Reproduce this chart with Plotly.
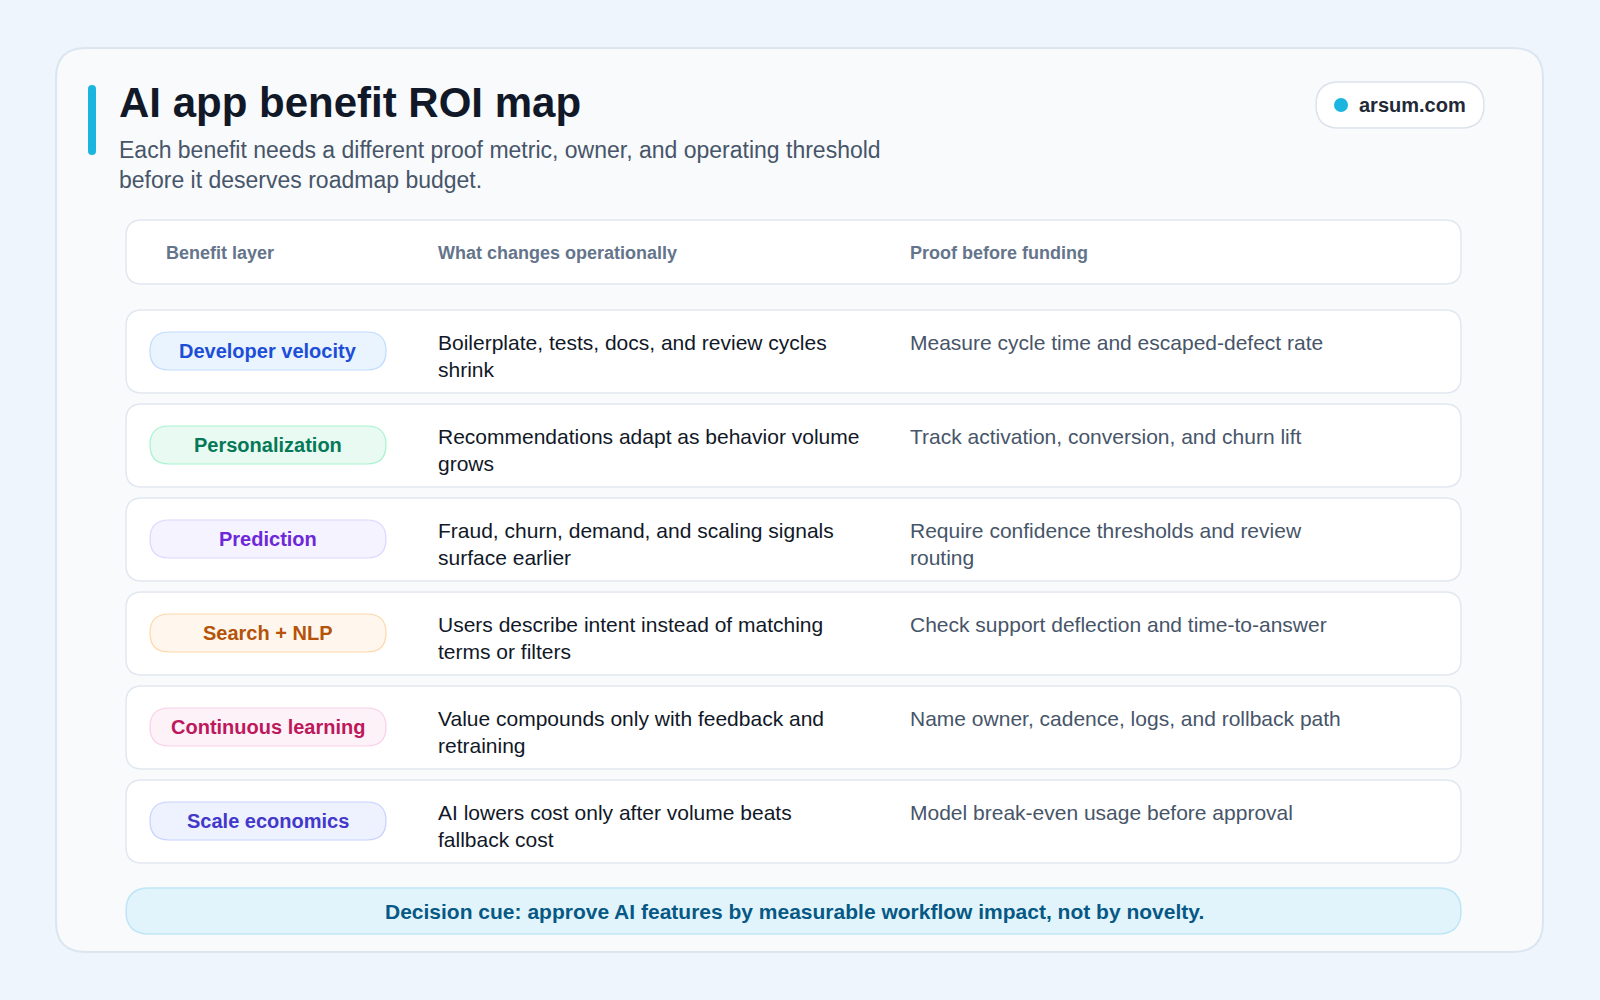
import plotly.graph_objects as go

# data
benefits = ["Developer velocity", "Personalization", "Prediction", "Search + NLP",
            "Continuous learning", "Scale economics"]
changes = ["Boilerplate, tests, docs, and review cycles<br>shrink",
           "Recommendations adapt as behavior volume<br>grows",
           "Fraud, churn, demand, and scaling signals<br>surface earlier",
           "Users describe intent instead of matching<br>terms or filters",
           "Value compounds only with feedback and<br>retraining",
           "AI lowers cost only after volume beats<br>fallback cost"]
proofs = ["Measure cycle time and escaped-defect rate",
          "Track activation, conversion, and churn lift",
          "Require confidence thresholds and review<br>routing",
          "Check support deflection and time-to-answer",
          "Name owner, cadence, logs, and rollback path",
          "Model break-even usage before approval"]
headers = ["Benefit layer", "What changes operationally", "Proof before funding"]

# pill styles: text, fill, border
pill_styles = [("#1d4ed8", "#eaf4ff", "#bfdbfe"),
               ("#047857", "#e8faf1", "#a7f3d0"),
               ("#6d28d9", "#f5f3ff", "#ddd6fe"),
               ("#b45309", "#fff7ed", "#fed7aa"),
               ("#be185d", "#fdf2f8", "#fbcfe8"),
               ("#4338ca", "#eef2ff", "#c7d2fe")]

FONT = "Liberation Sans, Arial, sans-serif"
BG = "#eef5fc"


def rrect(x0, y0, x1, y1, r):
    return (f"M{x0+r},{y0} L{x1-r},{y0} Q{x1},{y0} {x1},{y0+r} L{x1},{y1-r} "
            f"Q{x1},{y1} {x1-r},{y1} L{x0+r},{y1} Q{x0},{y1} {x0},{y1-r} "
            f"L{x0},{y0+r} Q{x0},{y0} {x0+r},{y0} Z")


shapes = []
ann = []


def box(x0, y0, x1, y1, r, fill, line, w=1.5):
    shapes.append(dict(type="path", path=rrect(x0, y0, x1, y1, r), fillcolor=fill,
                       line=dict(color=line, width=w), layer="below"))


def text(x, y, s, size, color, bold=False, xanchor="left"):
    ann.append(dict(x=x, y=y, text=f"<b>{s}</b>" if bold else s, showarrow=False,
                    xanchor=xanchor, yanchor="middle", align="left",
                    font=dict(family=FONT, size=size, color=color)))


# outer card
box(56, 48, 1543, 952, 30, "#f8fafc", "#dbe6f0", 2)
shapes.append(dict(type="path", path=rrect(88, 85, 96, 155, 4), fillcolor="#1cb5e0",
                   line=dict(width=0)))
text(117, 102, "AI app benefit ROI map", 42, "#111827", bold=True)
text(117, 150, "Each benefit needs a different proof metric, owner, and operating threshold", 23, "#475569")
text(117, 180, "before it deserves roadmap budget.", 23, "#475569")

# brand badge
box(1316, 82, 1484, 128, 23, "#ffffff", "#dbe3ec", 1.5)
shapes.append(dict(type="circle", x0=1334, y0=98, x1=1348, y1=112, fillcolor="#1cb5e0",
                   line=dict(width=0)))
text(1357, 105, "arsum.com", 20, "#1f2937", bold=True)

# header row
col_x = [164, 436, 908]
box(126, 220, 1461, 284, 16, "#ffffff", "#e2e8f0")
for cx, h in zip(col_x, headers):
    text(cx, 253, h, 18, "#64748b", bold=True)

# body rows
row_top, row_h, pitch = 310, 83, 94
for i, (b, c, p) in enumerate(zip(benefits, changes, proofs)):
    y0 = row_top + i * pitch
    box(126, y0, 1461, y0 + row_h, 16, "#ffffff", "#e2e8f0")
    tc, fc, lc = pill_styles[i]
    box(150, y0 + 22, 386, y0 + 60, 19, fc, lc, 1.2)
    text(268, y0 + 41, b, 20, tc, bold=True, xanchor="center")
    text(436, y0 + 46, c, 21, "#111827")
    text(908, y0 + 46 if "<br>" in p else y0 + 32, p, 21, "#475569")

# decision banner
box(126, 888, 1461, 934, 23, "#e2f4fb", "#bfe6f6", 1.5)
text(794, 911, "Decision cue: approve AI features by measurable workflow impact, not by novelty.",
     21, "#075985", bold=True, xanchor="center")

fig = go.Figure()
fig.update_layout(width=1600, height=1000, margin=dict(l=0, r=0, t=0, b=0),
                  paper_bgcolor=BG, plot_bgcolor=BG,
                  xaxis=dict(range=[0, 1600], visible=False, fixedrange=True),
                  yaxis=dict(range=[1000, 0], visible=False, fixedrange=True),
                  shapes=shapes, annotations=ann, showlegend=False)
fig.write_html("out.html", config={"displayModeBar": False},
               post_script=f"document.body.style.margin='0';document.body.style.background='{BG}';")
